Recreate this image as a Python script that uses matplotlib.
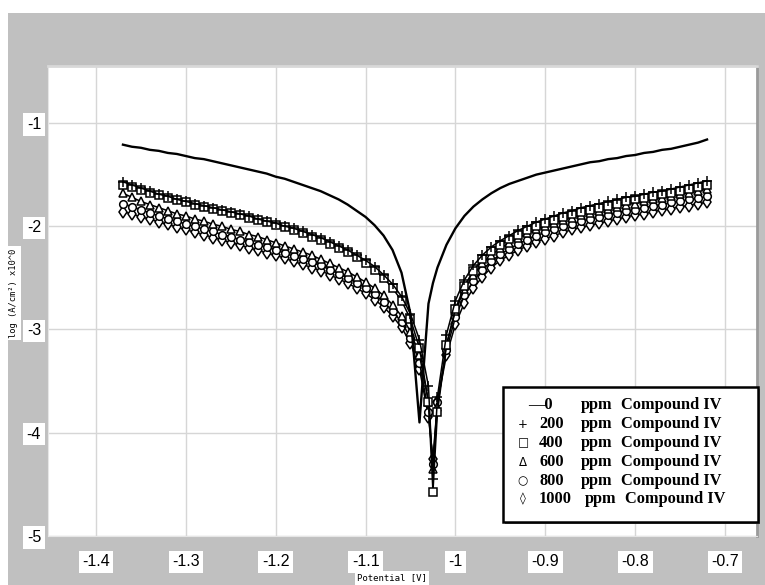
import matplotlib
matplotlib.use("Agg")
import matplotlib.pyplot as plt
from matplotlib.patches import Rectangle

# Potential sweep (V)
potential = [-1.37, -1.36, -1.35, -1.34, -1.33, -1.32, -1.31, -1.30, -1.29, -1.28,
             -1.27, -1.26, -1.25, -1.24, -1.23, -1.22, -1.21, -1.20, -1.19, -1.18,
             -1.17, -1.16, -1.15, -1.14, -1.13, -1.12, -1.11, -1.10, -1.09, -1.08,
             -1.07, -1.06, -1.05, -1.04, -1.03, -1.025, -1.02, -1.01, -1.00, -0.99,
             -0.98, -0.97, -0.96, -0.95, -0.94, -0.93, -0.92, -0.91, -0.90, -0.89,
             -0.88, -0.87, -0.86, -0.85, -0.84, -0.83, -0.82, -0.81, -0.80, -0.79,
             -0.78, -0.77, -0.76, -0.75, -0.74, -0.73, -0.72]

# log current density for each inhibitor concentration
log_i_0 = [-1.21, -1.23, -1.24, -1.26, -1.27, -1.29, -1.30, -1.32, -1.34, -1.35,
           -1.37, -1.39, -1.41, -1.43, -1.45, -1.47, -1.49, -1.52, -1.54, -1.57,
           -1.60, -1.63, -1.66, -1.70, -1.74, -1.79, -1.85, -1.91, -1.99, -2.09,
           -2.23, -2.45, -2.85, -3.90, -2.75, -2.55, -2.40, -2.18, -2.02, -1.90,
           -1.81, -1.74, -1.68, -1.63, -1.59, -1.56, -1.53, -1.50, -1.48, -1.46,
           -1.44, -1.42, -1.40, -1.38, -1.37, -1.35, -1.34, -1.32, -1.31, -1.29,
           -1.28, -1.26, -1.25, -1.23, -1.21, -1.19, -1.16]
log_i_200 = [-1.57, -1.60, -1.63, -1.66, -1.69, -1.71, -1.74, -1.76, -1.78, -1.80,
             -1.82, -1.84, -1.86, -1.88, -1.90, -1.93, -1.95, -1.97, -2.00, -2.02,
             -2.05, -2.08, -2.11, -2.15, -2.19, -2.23, -2.28, -2.33, -2.39, -2.47,
             -2.56, -2.68, -2.85, -3.10, -3.55, -4.45, -3.65, -3.05, -2.72, -2.52,
             -2.38, -2.28, -2.20, -2.14, -2.09, -2.04, -2.00, -1.96, -1.93, -1.90,
             -1.87, -1.85, -1.82, -1.80, -1.78, -1.76, -1.74, -1.72, -1.71, -1.69,
             -1.67, -1.66, -1.64, -1.62, -1.60, -1.58, -1.56]
log_i_400 = [-1.60, -1.62, -1.65, -1.68, -1.70, -1.73, -1.75, -1.77, -1.79, -1.81,
             -1.83, -1.85, -1.87, -1.89, -1.92, -1.94, -1.96, -1.99, -2.01, -2.04,
             -2.07, -2.10, -2.13, -2.17, -2.21, -2.25, -2.30, -2.36, -2.42, -2.50,
             -2.60, -2.72, -2.90, -3.18, -3.70, -4.57, -3.80, -3.15, -2.80, -2.58,
             -2.43, -2.32, -2.24, -2.18, -2.12, -2.08, -2.04, -2.00, -1.97, -1.94,
             -1.91, -1.88, -1.86, -1.84, -1.82, -1.80, -1.78, -1.76, -1.74, -1.73,
             -1.71, -1.69, -1.68, -1.66, -1.64, -1.62, -1.60]
log_i_600 = [-1.68, -1.72, -1.76, -1.79, -1.82, -1.85, -1.88, -1.90, -1.93, -1.95,
             -1.98, -2.00, -2.03, -2.05, -2.08, -2.10, -2.13, -2.16, -2.19, -2.22,
             -2.25, -2.28, -2.32, -2.36, -2.40, -2.44, -2.49, -2.54, -2.60, -2.67,
             -2.76, -2.87, -3.02, -3.25, -3.70, -4.35, -3.75, -3.15, -2.82, -2.61,
             -2.47, -2.36, -2.28, -2.21, -2.16, -2.11, -2.07, -2.03, -2.00, -1.97,
             -1.94, -1.92, -1.89, -1.87, -1.85, -1.83, -1.81, -1.79, -1.78, -1.76,
             -1.74, -1.73, -1.71, -1.69, -1.68, -1.66, -1.64]
log_i_800 = [-1.78, -1.81, -1.84, -1.87, -1.90, -1.93, -1.95, -1.98, -2.00, -2.03,
             -2.05, -2.08, -2.10, -2.13, -2.15, -2.18, -2.20, -2.23, -2.26, -2.29,
             -2.32, -2.35, -2.38, -2.42, -2.46, -2.50, -2.55, -2.60, -2.66, -2.73,
             -2.82, -2.93, -3.08, -3.32, -3.80, -4.30, -3.70, -3.20, -2.88, -2.67,
             -2.53, -2.42, -2.34, -2.27, -2.22, -2.17, -2.13, -2.09, -2.06, -2.03,
             -2.00, -1.98, -1.95, -1.93, -1.91, -1.89, -1.87, -1.85, -1.84, -1.82,
             -1.80, -1.79, -1.77, -1.76, -1.74, -1.73, -1.71]
log_i_1000 = [-1.86, -1.88, -1.91, -1.93, -1.96, -1.98, -2.01, -2.03, -2.06, -2.08,
              -2.11, -2.13, -2.16, -2.18, -2.21, -2.23, -2.26, -2.28, -2.31, -2.34,
              -2.37, -2.40, -2.43, -2.47, -2.51, -2.55, -2.60, -2.65, -2.71, -2.78,
              -2.87, -2.98, -3.13, -3.38, -3.85, -4.25, -3.70, -3.25, -2.95, -2.74,
              -2.60, -2.49, -2.40, -2.33, -2.28, -2.23, -2.19, -2.15, -2.12, -2.09,
              -2.06, -2.03, -2.01, -1.99, -1.97, -1.95, -1.93, -1.91, -1.89, -1.88,
              -1.86, -1.84, -1.83, -1.81, -1.80, -1.78, -1.77]

x_ticks = [-1.4, -1.3, -1.2, -1.1, -1.0, -0.9, -0.8, -0.7]
x_tick_labels = ["-1.4", "-1.3", "-1.2", "-1.1", "-1", "-0.9", "-0.8", "-0.7"]
y_ticks = [-5, -4, -3, -2, -1]
y_tick_labels = ["-5", "-4", "-3", "-2", "-1"]

legend_symbols = ["\u2014", "+", "\u25a1", "\u0394", "\u25cb", "\u25ca"]
legend_conc = ["0", "200", "400", "600", "800", "1000"]

W, H = 765, 585
fig = plt.figure(figsize=(W / 100, H / 100), dpi=100, facecolor="white")

def fx(px):
    return px / W

def fy(py):
    return 1 - py / H

# grey panel behind the plot
fig.patches.append(Rectangle((fx(8), 0), 1 - fx(8), fy(13), transform=fig.transFigure,
                             facecolor="#c0c0c0", edgecolor="none", zorder=-10))

ax = fig.add_axes([fx(48), fy(536), fx(757) - fx(48), fy(66) - fy(536)])
ax.set_facecolor("white")
ax.set_xlim(-1.4534, -0.6644)
ax.set_ylim(-5.0, -0.448)

ax.set_xticks(x_ticks)
ax.set_xticklabels(x_tick_labels)
ax.set_yticks(y_ticks)
ax.set_yticklabels(y_tick_labels)
ax.grid(True, color="#d6d6d6", linewidth=1.0)
ax.set_axisbelow(True)
ax.tick_params(length=0, labelsize=11.5, pad=13)
ax.tick_params(axis="y", pad=5)
for lbl in ax.get_xticklabels() + ax.get_yticklabels():
    lbl.set_family(["Liberation Sans Narrow", "Liberation Sans", "DejaVu Sans"])
    lbl.set_bbox(dict(facecolor="white", edgecolor="none", pad=2.5))
for side in ("left", "bottom"):
    ax.spines[side].set_color("#e6e6e6")
ax.spines["top"].set_color("#d8d8d8")
ax.spines["top"].set_linewidth(2)
ax.spines["right"].set_color("#9a9a9a")
ax.spines["right"].set_linewidth(2)

# blank curve
ax.plot(potential, log_i_0, color="black", linewidth=1.7, zorder=5)

# inhibited curves
series = [
    (log_i_1000, "d", 6),
    (log_i_800, "o", 5.5),
    (log_i_600, "^", 6),
    (log_i_400, "s", 5.5),
    (log_i_200, "+", 7),
]
for vals, mk, ms in series:
    ax.plot(potential, vals, color="black", linewidth=1.1, marker=mk, markersize=ms,
            markerfacecolor="white", markeredgecolor="black", markeredgewidth=1.1,
            zorder=4)

# legend box
lx0, ly0, lx1, ly1 = 503, 387, 758, 522
fig.patches.append(Rectangle((fx(lx0) + 0.002, fy(ly1) - 0.003), fx(lx1) - fx(lx0), fy(ly0) - fy(ly1),
                             transform=fig.transFigure, facecolor="#707070",
                             edgecolor="none", zorder=20))
fig.patches.append(Rectangle((fx(lx0), fy(ly1)), fx(lx1) - fx(lx0), fy(ly0) - fy(ly1),
                             transform=fig.transFigure, facecolor="white",
                             edgecolor="black", linewidth=1.8, zorder=21))
row_y = [405, 424, 443, 462, 481, 499]
serif = ["Liberation Serif", "DejaVu Serif"]
fs = 11.8
for k, (sym, conc) in enumerate(zip(legend_symbols, legend_conc)):
    y = fy(row_y[k])
    if k == 0:
        fig.text(fx(528), y, sym + conc, ha="left", va="center", fontsize=fs,
                 fontweight="bold", family=serif, zorder=22)
    else:
        fig.text(fx(523), y, sym, ha="center", va="center", fontsize=8.5,
                 family=["DejaVu Sans"], zorder=22)
        fig.text(fx(539), y, conc, ha="left", va="center", fontsize=fs,
                 fontweight="bold", family=serif, zorder=22)
    shift = 4 if conc == "1000" else 0
    fig.text(fx(581 + shift), y, "ppm", ha="left", va="center", fontsize=fs,
             fontweight="bold", family=serif, zorder=22)
    fig.text(fx(621 + shift), y, "Compound IV", ha="left", va="center", fontsize=fs,
             fontweight="bold", family=serif, zorder=22)

# axis titles
fig.text(fx(14), fy(293), "log (A/cm\u00b2) x10^0", rotation=90, ha="center", va="center",
         fontsize=6.3, family="DejaVu Sans Mono",
         bbox=dict(facecolor="white", edgecolor="none", pad=1.5))
fig.text(fx(392), fy(578), "Potential [V]", ha="center", va="center",
         fontsize=6.5, family="DejaVu Sans Mono",
         bbox=dict(facecolor="white", edgecolor="none", pad=1.5))

fig.savefig("out.png", dpi=100, facecolor="white")
